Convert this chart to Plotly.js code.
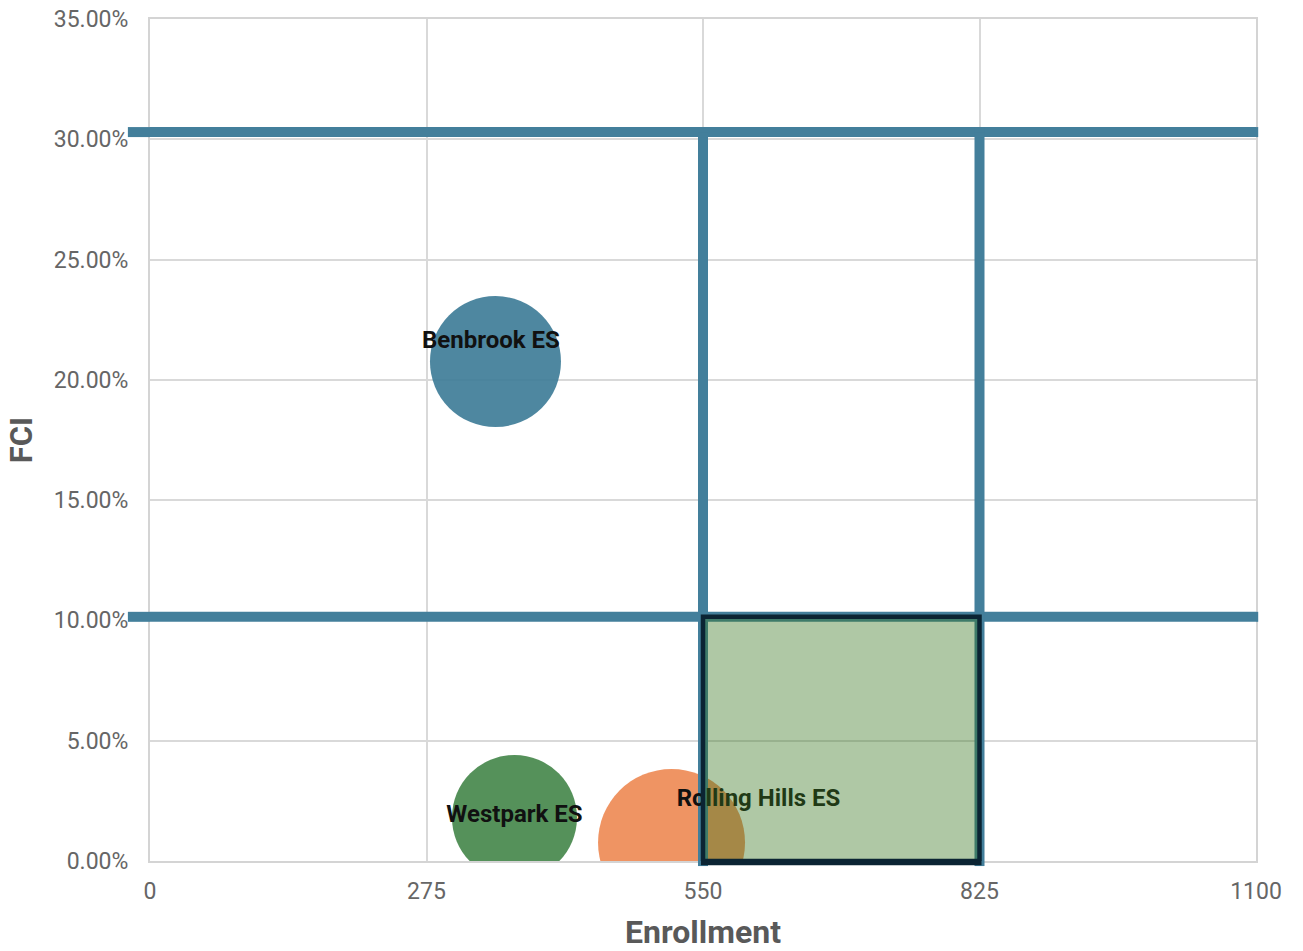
<!DOCTYPE html>
<html>
<head>
<meta charset="utf-8">
<script src="https://cdn.plot.ly/plotly-3.0.1.min.js"></script>
<style>html,body{margin:0;padding:0;background:#fff}#chart{width:1303px;height:951px}</style>
</head>
<body>
<div id="chart"></div>
<script>
// ---- data ----
var schools = ["Benbrook ES", "Westpark ES", "Rolling Hills ES"];
var enrollment = [343.6, 362.5, 518.7];
var fci = [0.2076, 0.0181, 0.0077];
var bubbleValue = [131, 125, 147];
var fciThresholds = [0.1015, 0.303];
var enrollmentThresholds = [550, 825];
var xTicks = [0, 275, 550, 825, 1100];
var yTicks = [0, 0.05, 0.10, 0.15, 0.20, 0.25, 0.30, 0.35];

// ---- styling ----
var colors = ["rgba(59,122,150,0.9)", "rgba(66,133,72,0.9)", "rgba(237,136,82,0.9)"];
var labelDx = [-4.5, 0, 86.5];          // enrollment units
var labelDy = [0.0081, 0.0004, 0.0175]; // fci units
var xRange = [0, 1100], yRange = [0, 0.35];
var lineBlue = "#437f9b";
var lineW = 10;
var rectFill = "rgba(56,118,29,0.4)";
var rectLine = "#0b2433";

function yPaper(v) { return (v - yRange[0]) / (yRange[1] - yRange[0]); }

var traces = [];
// bubbles
for (var i = 0; i < schools.length; i++) {
  traces.push({
    type: "scatter", mode: "markers", name: schools[i],
    x: [enrollment[i]], y: [fci[i]],
    marker: {size: [bubbleValue[i]], sizemode: "diameter", sizeref: 1, color: colors[i], opacity: 1, line: {width: 0}},
    hoverinfo: "x+y+name", cliponaxis: true
  });
}
// threshold lines inside the plot area
fciThresholds.forEach(function (t) {
  traces.push({type: "scatter", mode: "lines", hoverinfo: "skip", showlegend: false,
    x: [xRange[0], xRange[1]], y: [t, t], line: {color: lineBlue, width: lineW}});
});
enrollmentThresholds.forEach(function (t) {
  traces.push({type: "scatter", mode: "lines", hoverinfo: "skip", showlegend: false,
    x: [t, t], y: [yRange[0], fciThresholds[1]], line: {color: lineBlue, width: lineW}});
});
// labels
traces.push({
  type: "scatter", mode: "text", showlegend: false, hoverinfo: "skip",
  x: enrollment.map(function (v, i) { return v + labelDx[i]; }),
  y: fci.map(function (v, i) { return v + labelDy[i]; }),
  text: schools, textposition: "middle center", cliponaxis: false,
  textfont: {family: "Roboto", size: 24, color: "#111111", weight: 700}
});
// target zone rectangle
var e0 = enrollmentThresholds[0], e1 = enrollmentThresholds[1], f0 = fciThresholds[0];
traces.push({
  type: "scatter", mode: "lines", hoverinfo: "skip", showlegend: false,
  x: [e0, e1, e1, e0, e0], y: [yRange[0], yRange[0], f0, f0, yRange[0]],
  fill: "toself", fillcolor: rectFill, line: {color: rectLine, width: 4.5}
});

// small extensions of the lines beyond the plot area
var shapes = [];
fciThresholds.forEach(function (t) {
  shapes.push({type: "line", layer: "above", xref: "paper", yref: "y", x0: -0.02, x1: 0, y0: t, y1: t,
    line: {color: lineBlue, width: lineW}});
  shapes.push({type: "line", layer: "above", xref: "paper", yref: "y", x0: 1, x1: 1.002, y0: t, y1: t,
    line: {color: lineBlue, width: lineW}});
});
enrollmentThresholds.forEach(function (t) {
  shapes.push({type: "line", layer: "above", xref: "x", yref: "paper", x0: t, x1: t,
    y0: -0.006, y1: 0, line: {color: lineBlue, width: lineW}});
  shapes.push({type: "line", layer: "above", xref: "x", yref: "paper", x0: t, x1: t,
    y0: yPaper(fciThresholds[1]), y1: yPaper(fciThresholds[1]) + 0.006, line: {color: lineBlue, width: lineW}});
});
shapes.push({type: "line", layer: "above", xref: "x", yref: "paper", x0: e0 - 2, x1: e1 + 2, y0: -0.0025, y1: -0.0025,
  line: {color: rectLine, width: 4.5}});

var axisCommon = {
  showgrid: true, gridcolor: "#d9d9d9", gridwidth: 2, zeroline: false,
  showline: true, mirror: true, linecolor: "#d4d4d4", linewidth: 2, layer: "below traces",
  ticks: "", tickfont: {family: "Roboto", size: 23, color: "#666666"}
};

var layout = {
  width: 1303, height: 951,
  margin: {l: 150, r: 47, t: 19, b: 90},
  paper_bgcolor: "#ffffff", plot_bgcolor: "#ffffff",
  showlegend: false,
  font: {family: "Roboto", color: "#666666"},
  xaxis: Object.assign({}, axisCommon, {
    range: xRange, tickvals: xTicks, ticktext: xTicks.map(String), ticklabelstandoff: 8,
    title: {text: "Enrollment", standoff: 20, font: {family: "Roboto", size: 32, color: "#595959", weight: 700}}
  }),
  yaxis: Object.assign({}, axisCommon, {
    range: yRange, tickvals: yTicks, tickformat: ".2%", ticklabelstandoff: 15,
    title: {text: "FCI", standoff: 12, font: {family: "Roboto", size: 31, color: "#595959", weight: 700}}
  }),
  shapes: shapes
};

Plotly.newPlot("chart", traces, layout, {displayModeBar: false, staticPlot: true});
</script>
</body>
</html>
